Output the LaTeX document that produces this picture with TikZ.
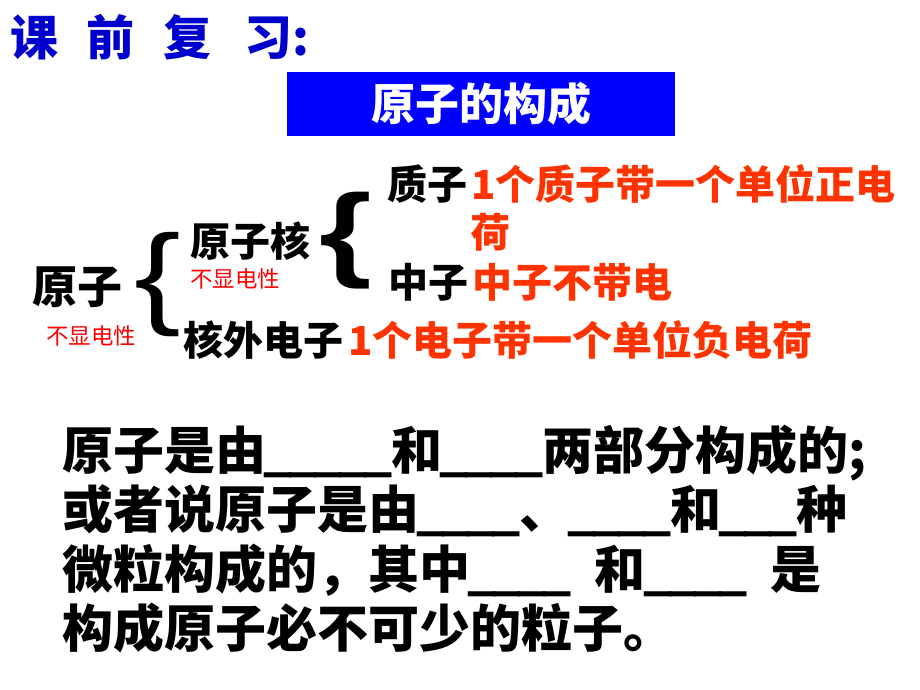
\documentclass[tikz,border=0pt]{standalone}
\usepackage{fontspec}
\newfontfamily\cjk{Noto Sans CJK SC}
\newfontfamily\libsans{Liberation Sans}
\usetikzlibrary{positioning}
\definecolor{titleblue}{RGB}{0,0,204}
\definecolor{boxblue}{RGB}{0,0,255}
\definecolor{notered}{RGB}{255,51,0}
\definecolor{tagred}{RGB}{255,0,0}
% a run of blank underscores, 25pt each
\newcommand{\blanks}[1]{\foreach \k in {1,...,#1}{\makebox[25pt]{\_}}}

\begin{document}
\begin{tikzpicture}[
            x=1pt, y=-1pt,
            every node/.style={inner sep=0pt, outer sep=0pt},
            heading/.style={anchor=base west, text=titleblue, font=\cjk\bfseries\fontsize{48}{48}\selectfont},
            headbox/.style={fill=boxblue, minimum width=388pt, minimum height=64pt, text=white, font=\cjk\bfseries\fontsize{44}{44}\selectfont},
            term/.style={anchor=base west, font=\cjk\bfseries\fontsize{40}{40}\selectfont},
            note/.style={term, text=notered},
            tag/.style={anchor=base west, text=tagred, font=\cjk\fontsize{22.5}{22.5}\selectfont},
            bracket/.style={font=\libsans\fontsize{#1}{#1}\selectfont},
            sentence/.style={anchor=base west, font=\cjk\bfseries\fontsize{51}{51}\selectfont}
        ]
            \useasboundingbox[fill=white] (0,0) rectangle (920,690);

            % Title and banner
            \node[heading] (title) at (10,56) {课\hspace{29pt}前\hspace{29pt}复\hspace{33pt}习:};
            \node[headbox] (banner) at (481,104) {原子的构成};

            % Structure of the atom
            \node[term, font=\cjk\bfseries\fontsize{45}{45}\selectfont] (atom) at (32,303) {原子};
            \node[tag] (atomtag) at (46,344) {不显电性};
            \node[bracket=112, xscale=1.25] (brace1) at (158,285) {\{};
            \node[term] (nucleus) at (190,256) {原子核};
            \node[tag] (nucleustag) at (190,287) {不显电性};
            \node[bracket=104, xscale=1.3, font=\libsans\bfseries\fontsize{104}{104}\selectfont] (brace2) at (346,241) {\{};
            \node[term] (proton) at (387,199) {质子};
            \node[note] (protonnote) at (471,199) {1个质子带一个单位正电};
            \node[note] (protonnote2) at (470,247) {荷};
            \node[term] (neutron) at (388,297) {中子};
            \node[note] (neutronnote) at (472,297) {中子不带电};
            \node[term] (electron) at (183,355) {核外电子};
            \node[note] (electronnote) at (348,355) {1个电子带一个单位负电荷};

            % Questions
            \node[sentence] (line1) at (62,469) {原子是由\blanks{5}和\blanks{4}两部分构成的;};
            \node[sentence] (line2) at (62,528) {或者说原子是由\blanks{4}、\blanks{4}和\blanks{3}种};
            \node[sentence] (line3) at (62,588) {微粒构成的，其中\blanks{4}\hspace{25pt}和\blanks{4}\hspace{25pt}是};
            \node[sentence] (line4) at (62,647) {构成原子必不可少的粒子。};
        \end{tikzpicture}
\end{document}
